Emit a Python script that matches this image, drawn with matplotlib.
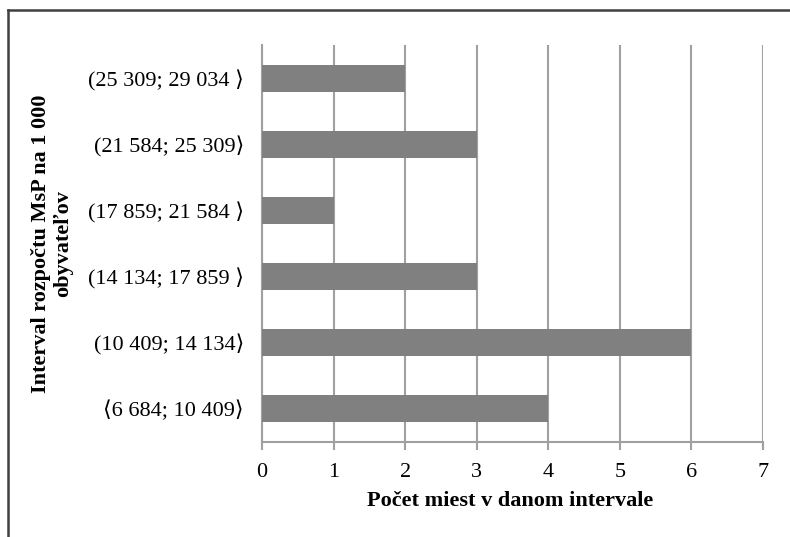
import matplotlib
matplotlib.use("Agg")
import matplotlib.pyplot as plt
from matplotlib.lines import Line2D

# Intervals (bottom to top) and number of towns in each
intervals = [
    "\u27e86 684; 10 409\u27e9",
    "(10 409; 14 134\u27e9",
    "(14 134; 17 859 \u27e9",
    "(17 859; 21 584 \u27e9",
    "(21 584; 25 309\u27e9",
    "(25 309; 29 034 \u27e9",
]
counts = [4, 6, 3, 1, 3, 2]
x_ticks = [0, 1, 2, 3, 4, 5, 6, 7]

FONT = ["Liberation Serif", "DejaVu Serif", "DejaVu Sans"]
plt.rcParams["font.family"] = FONT

W, H = 790, 537
fig = plt.figure(figsize=(W / 100, H / 100), dpi=100)
ax = fig.add_axes([262 / W, 1 - 442 / H, 501 / W, 397 / H])

ax.barh(range(len(counts)), counts, height=0.41, color="#808080", zorder=3)

ax.set_xlim(0, 7)
ax.set_ylim(-0.5, len(counts) - 0.5)
ax.set_xticks(x_ticks)
ax.set_xticklabels([str(t) for t in x_ticks], fontsize=16)
ax.set_yticks(range(len(counts)))
ax.set_yticklabels(intervals, fontsize=16)

ax.grid(axis="x", color="#a0a0a0", linewidth=1.5, zorder=0)
ax.tick_params(axis="x", length=6, width=1.5, color="#a0a0a0", direction="out", pad=9)
ax.tick_params(axis="y", length=0, pad=13)

for side in ["top", "right"]:
    ax.spines[side].set_visible(False)
for side in ["left", "bottom"]:
    ax.spines[side].set_color("#a0a0a0")
    ax.spines[side].set_linewidth(1.5)

fig.text(510 / W, 1 - 501 / H, "Počet miest v danom intervale", fontsize=16,
         fontweight="bold", ha="center", va="center")
fig.text(52 / W, 1 - 243.5 / H, "Interval rozpočtu MsP na 1 000\nobyvateľov",
         fontsize=16, fontweight="bold", rotation=90, ha="center", va="center",
         multialignment="center", linespacing=1.1)

# chart frame: only left and top edges are visible
fig.add_artist(Line2D([7.5 / W, 7.5 / W], [0.0, 1 - 9.5 / H], transform=fig.transFigure,
                      color="#404040", linewidth=1.8))
fig.add_artist(Line2D([7.5 / W, 1.0], [1 - 9.5 / H, 1 - 9.5 / H], transform=fig.transFigure,
                      color="#404040", linewidth=1.8))

fig.savefig("out.png", dpi=100)
